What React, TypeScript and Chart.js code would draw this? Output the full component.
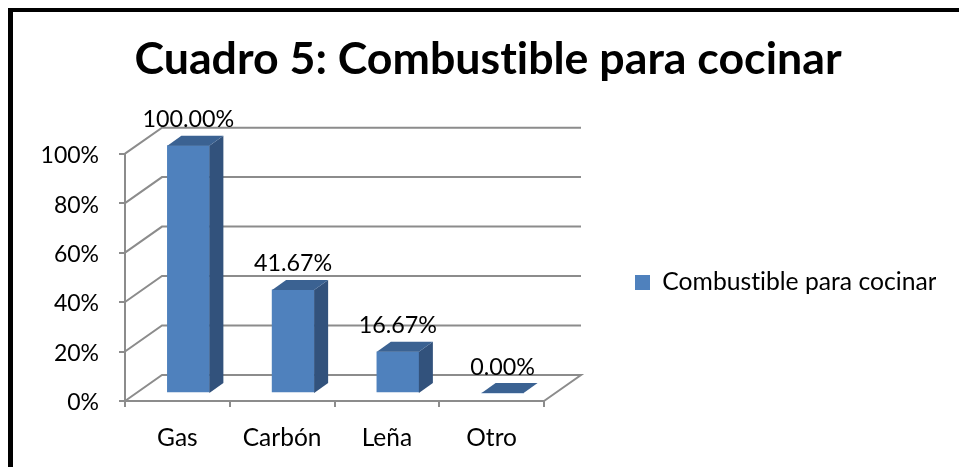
import React, { useEffect, useRef } from "react";
import { Chart, registerables } from "chart.js";

Chart.register(...registerables);

const categories = ["Gas", "Carbón", "Leña", "Otro"];
const seriesName = "Combustible para cocinar";
const values = [1.0, 0.4167, 0.1667, 0.0];
const titleText = "Cuadro 5: Combustible para cocinar";

const FONT = "Lato, Carlito, Calibri, sans-serif";
const GRID = "#8c8c8c";
const FRONT = "#4f81bd";
const SIDE = "#32527c";
const TOP = "#3b6292";
const WALL = { dx: 37, dy: -26 };
const BAR_SHIFT = { dx: 11, dy: -8 };
const BAR_DEPTH = { dx: 14, dy: -10 };

const pct2 = (v: number) => (v * 100).toFixed(2) + "%";

const plot3d = {
  id: "plot3d",
  beforeDraw(chart: any) {
    chart.ctx.textRendering = "optimizeSpeed";
  },
  afterLayout(chart: any) {
    chart.legend.top += 49;
    chart.legend.bottom += 49;
  },
  beforeDatasetsDraw(chart: any) {
    const { ctx, chartArea: a, scales } = chart;
    ctx.save();
    ctx.strokeStyle = GRID;
    ctx.lineWidth = 2;
    scales.y.ticks.forEach((t: any) => {
      const y = scales.y.getPixelForValue(t.value);
      ctx.beginPath();
      ctx.moveTo(a.left, y);
      ctx.lineTo(a.left + WALL.dx, y + WALL.dy);
      ctx.lineTo(a.right + WALL.dx, y + WALL.dy);
      if (t.value === 0) ctx.lineTo(a.right, y);
      ctx.stroke();
    });
    ctx.restore();
    ctx.save();
    ctx.translate(BAR_SHIFT.dx, BAR_SHIFT.dy);
  },
  afterDatasetsDraw(chart: any) {
    const { ctx } = chart;
    const meta = chart.getDatasetMeta(0);
    const base = chart.scales.y.getPixelForValue(0);
    meta.data.forEach((bar: any) => {
      const half = bar.width / 2;
      const l = bar.x - half;
      const r = bar.x + half;
      const t = bar.y;
      const { dx, dy } = BAR_DEPTH;
      ctx.fillStyle = SIDE;
      ctx.beginPath();
      ctx.moveTo(r, t);
      ctx.lineTo(r + dx, t + dy);
      ctx.lineTo(r + dx, base + dy);
      ctx.lineTo(r, base);
      ctx.closePath();
      ctx.fill();
      ctx.fillStyle = TOP;
      ctx.beginPath();
      ctx.moveTo(l, t);
      ctx.lineTo(l + dx, t + dy);
      ctx.lineTo(r + dx, t + dy);
      ctx.lineTo(r, t);
      ctx.closePath();
      ctx.fill();
    });
    ctx.restore();
    ctx.save();
    ctx.fillStyle = "#000";
    ctx.font = `23.3px ${FONT}`;
    ctx.textAlign = "center";
    ctx.textBaseline = "middle";
    meta.data.forEach((bar: any, i: number) => {
      ctx.fillText(pct2(values[i]), bar.x + BAR_SHIFT.dx, bar.y + BAR_SHIFT.dy - 26);
    });
    ctx.restore();
  },
};

export default function App() {
  const ref = useRef<HTMLCanvasElement>(null);
  useEffect(() => {
    const chart = new Chart(ref.current as HTMLCanvasElement, {
      type: "bar",
      data: {
        labels: categories,
        datasets: [
          {
            label: seriesName,
            data: values,
            backgroundColor: FRONT,
            borderWidth: 0,
            barThickness: 42,
            clip: false,
          } as any,
        ],
      },
      plugins: [plot3d],
      options: {
        responsive: false,
        animation: false,
        layout: { padding: { left: 40, right: 23, top: 0, bottom: 0 } },
        plugins: {
          tooltip: { enabled: false },
          title: {
            display: true,
            text: titleText,
            color: "#000",
            font: { family: FONT, size: 44.7, weight: "bold", lineHeight: 1.2 },
            padding: { top: 33, bottom: 67 },
          },
          legend: {
            position: "right",
            maxWidth: 392,
            labels: {
              color: "#000",
              font: { family: FONT, size: 24.7 },
              boxWidth: 15,
              boxHeight: 15,
              padding: 91,
            },
          },
        },
        scales: {
          x: {
            afterFit: (s: any) => {
              s.height = 66;
            },
            border: { color: GRID, width: 2 },
            grid: { drawOnChartArea: false, drawTicks: true, tickLength: 6, color: GRID, lineWidth: 2 },
            ticks: { color: "#000", font: { family: FONT, size: 24.5 }, padding: 16, maxRotation: 0 },
          },
          y: {
            min: 0,
            max: 1,
            afterFit: (s: any) => {
              s.width = 85;
            },
            border: { color: GRID, width: 2 },
            grid: { drawOnChartArea: false, drawTicks: true, tickLength: 6, color: GRID, lineWidth: 2 },
            ticks: {
              stepSize: 0.2,
              color: "#000",
              font: { family: FONT, size: 23 },
              padding: 20,
              labelOffset: 2,
              callback: (v: any) => Math.round(Number(v) * 100) + "%",
            },
          },
        },
      },
    } as any);
    return () => chart.destroy();
  }, []);
  return (
    <>
      <canvas
        ref={ref}
        width={959}
        height={467}
        style={{ position: "absolute", left: 0, top: 0, width: 959, height: 467, display: "block" }}
      />
      <div
        style={{
          position: "fixed",
          left: 8,
          top: 8,
          right: 0,
          bottom: 0,
          borderTop: "4px solid #000",
          borderLeft: "5px solid #000",
          pointerEvents: "none",
        }}
      />
    </>
  );
}
